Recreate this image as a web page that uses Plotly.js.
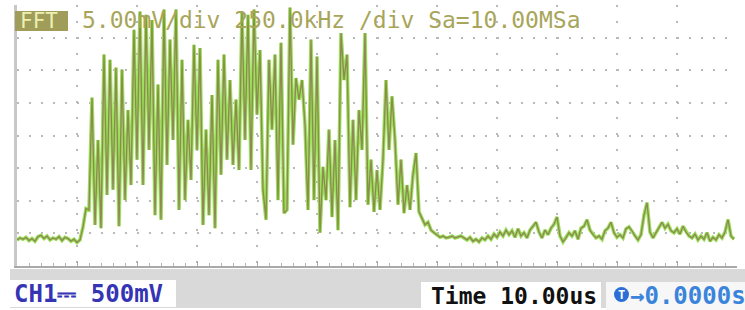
<!DOCTYPE html>
<html>
<head>
<meta charset="utf-8">
<script src="https://cdn.plot.ly/plotly-3.0.1.min.js"></script>
<style>
  html, body { margin: 0; padding: 0; background: #ffffff; }
  #chart { width: 745px; height: 310px; }
</style>
</head>
<body>
<div id="chart"></div>
<script>
// FFT frequency bins (kHz)
var freqKHz = [
  0,12.5,25,37.5,50,62.5,75,87.5,100,112.5,125,137.5,150,162.5,175,187.5,200,212.5,225,237.5,
  250,262.5,275,287.5,300,312.5,325,337.5,350,362.5,375,387.5,400,412.5,425,437.5,450,462.5,475,487.5,
  500,512.5,525,537.5,550,562.5,575,587.5,600,612.5,625,637.5,650,662.5,675,687.5,700,712.5,725,737.5,
  750,762.5,775,787.5,800,812.5,825,837.5,850,862.5,875,887.5,900,912.5,925,937.5,950,962.5,975,987.5,
  1000,1012.5,1025,1037.5,1050,1062.5,1075,1087.5,1100,1112.5,1125,1137.5,1150,1162.5,1175,1187.5,1200,1212.5,1225,1237.5,
  1250,1262.5,1275,1287.5,1300,1312.5,1325,1337.5,1350,1362.5,1375,1387.5,1400,1412.5,1425,1437.5,1450,1462.5,1475,1487.5,
  1500,1512.5,1525,1537.5,1550,1562.5,1575,1587.5,1600,1612.5,1625,1637.5,1650,1662.5,1675,1687.5,1700,1712.5,1725,1737.5,
  1750,1762.5,1775,1787.5,1800,1812.5,1825,1837.5,1850,1862.5,1875,1887.5,1900,1912.5,1925,1937.5,1950,1962.5,1975,1987.5,
  2000,2012.5,2025,2037.5,2050,2062.5,2075,2087.5,2100,2112.5,2125,2137.5,2150,2162.5,2175,2187.5,2200,2212.5,2225,2237.5,
  2250,2262.5,2275,2287.5,2300,2312.5,2325,2337.5,2350,2362.5,2375,2387.5,2400,2412.5,2425,2437.5,2450,2462.5,2475,2487.5,
  2500,2512.5,2525,2537.5,2550,2562.5,2575,2587.5,2600,2612.5,2625,2637.5,2650,2662.5,2675,2687.5,2700,2712.5,2725,2737.5,
  2750,2762.5,2775,2787.5,2800,2812.5,2825,2837.5,2850,2862.5,2875,2887.5,2900,2912.5,2925,2937.5,2950,2962.5,2975,2987.5
];
// FFT magnitude (mV, 5 mV/div)
var magMV = [
  4.0,4.3,4.1,4.4,3.9,4.2,3.8,4.5,4.7,4.2,4.6,4.0,4.3,4.1,4.5,3.9,4.4,4.2,3.8,4.1,
  3.6,4.0,6.0,8.8,8.6,25.8,6.3,19.3,5.8,32.4,10.9,31.6,11.7,30.4,6.1,30.1,10.1,23.9,12.4,36.2,
  16.3,39.0,12.4,38.5,17.8,37.7,7.8,27.8,7.1,39.3,15.5,34.7,19.3,39.3,8.6,31.6,10.1,22.4,13.2,33.9,
  17.8,33.4,6.3,20.9,7.8,26.2,5.8,31.6,14.0,32.4,16.3,28.5,15.5,25.5,14.7,39.0,19.3,38.5,14.7,39.3,
  23.2,33.1,11.7,7.1,31.6,20.9,32.4,10.1,34.2,8.1,8.6,39.6,18.6,28.8,25.5,28.5,21.6,8.6,34.7,10.1,
  32.1,5.1,15.2,10.1,20.9,7.5,19.3,5.5,35.7,28.5,32.4,9.0,22.4,10.1,23.9,17.8,35.7,9.4,16.3,8.3,
  14.7,8.6,16.3,28.5,17.8,26.0,19.3,9.4,16.3,8.1,12.4,8.6,14.0,17.3,8.3,7.4,6.3,6.7,5.5,5.1,
  4.8,4.4,4.6,4.3,4.4,4.6,4.3,4.4,4.6,4.3,4.0,4.4,3.8,4.1,3.7,4.3,4.0,4.6,4.1,4.9,
  4.4,5.2,4.6,5.5,4.8,5.4,4.4,5.7,4.6,5.1,4.3,5.5,6.1,6.7,5.2,4.3,5.5,4.8,5.8,6.4,
  7.5,4.6,3.7,4.3,5.1,4.6,5.4,4.1,5.8,6.1,7.1,5.5,4.8,4.3,4.6,4.1,5.4,5.8,6.7,5.1,
  4.4,4.8,4.3,5.7,6.0,5.4,4.6,4.0,4.8,7.8,9.7,5.2,4.3,5.1,6.1,6.7,5.8,6.4,5.4,5.1,
  5.7,4.9,6.1,5.2,4.6,4.3,4.9,4.0,4.6,4.1,5.1,3.8,4.4,4.0,4.8,4.3,5.2,7.1,4.6,4.1
];
var headerFFT = "FFT";
var headerText = "5.00mV/div 250.0kHz /div Sa=10.00MSa";
var ch1Label = "CH1\u2393 500mV";
var timeLabel = "Time 10.00us";
var trigLabel = "\u21920.0000s";

var traces = [
  { x: freqKHz, y: magMV, type: "scatter", mode: "lines",
    line: { color: "#9be05a", width: 3.6 }, hoverinfo: "skip" },
  { x: freqKHz, y: magMV, type: "scatter", mode: "lines",
    line: { color: "#8e8b52", width: 1.4 }, hoverinfo: "skip" }
];

function px(x) { return (x - 17) / 720; }
function py(y) { return (266 - y) / 261; }

var mono = "DejaVu Sans Mono";
var layout = {
  width: 745, height: 310,
  margin: { l: 17, r: 8, t: 5, b: 44, pad: 0 },
  paper_bgcolor: "#ffffff", plot_bgcolor: "#ffffff",
  showlegend: false,
  xaxis: {
    range: [0, 3000], dtick: 250, tick0: 0,
    showgrid: true, gridcolor: "#b9b9b9", gridwidth: 2, griddash: "2px,14px",
    zeroline: false, showticklabels: false,
    showline: true, linecolor: "#a9a9a9", linewidth: 2,
    ticks: "inside", ticklen: 5, tickcolor: "#a9a9a9", tickwidth: 1,
    minor: { dtick: 50, ticks: "inside", ticklen: 3, tickcolor: "#b5b5b5", showgrid: false }
  },
  yaxis: {
    range: [0, 40], dtick: 5, tick0: 0,
    showgrid: true, gridcolor: "#b9b9b9", gridwidth: 2, griddash: "2px,10px",
    zeroline: false, showticklabels: false,
    showline: true, linecolor: "#c8c8c8", linewidth: 3, ticks: ""
  },
  xaxis2: {
    overlaying: "x", anchor: "free", position: 0.5 + 2.5/261, range: [0, 3000],
    dtick: 50, tick0: 0, ticks: "outside", ticklen: 5, tickcolor: "#c0c0c0", tickwidth: 1,
    showgrid: false, zeroline: false, showline: false, showticklabels: false
  },
  shapes: [
    { type: "rect", xref: "paper", yref: "paper", x0: px(10), x1: px(745), y0: py(308), y1: py(269),
      fillcolor: "#d9d9d9", line: { width: 0 } },
    { type: "rect", xref: "paper", yref: "paper", x0: px(10), x1: px(176), y0: py(307), y1: py(280),
      fillcolor: "#ffffff", line: { width: 0 } },
    { type: "rect", xref: "paper", yref: "paper", x0: px(421), x1: px(601), y0: py(310), y1: py(282),
      fillcolor: "#ffffff", line: { width: 0 } },
    { type: "rect", xref: "paper", yref: "paper", x0: px(606), x1: px(745), y0: py(310), y1: py(282),
      fillcolor: "#f7f7f7", line: { width: 0 } },
    { type: "rect", xref: "paper", yref: "paper", x0: px(15), x1: px(68), y0: py(31), y1: py(11),
      fillcolor: "#a09d5a", line: { width: 0 } },
    { type: "circle", xref: "paper", yref: "paper", x0: px(614), x1: px(629), y0: py(302), y1: py(287),
      fillcolor: "#2a6fd6", line: { width: 0 } }
  ],
  annotations: [
    { xref: "paper", yref: "paper", x: px(18), y: py(21), xanchor: "left", yanchor: "middle",
      text: headerFFT, showarrow: false, font: { family: mono, size: 21, color: "#ecf0b0" } },
    { xref: "paper", yref: "paper", x: px(80), y: py(20), xanchor: "left", yanchor: "middle",
      text: headerText, showarrow: false, font: { family: mono, size: 23, color: "#a8a55a" } },
    { xref: "paper", yref: "paper", x: px(12), y: py(294), xanchor: "left", yanchor: "middle",
      text: ch1Label, showarrow: false, font: { family: mono, size: 24, color: "#3434b4", weight: "bold" } },
    { xref: "paper", yref: "paper", x: px(429), y: py(296), xanchor: "left", yanchor: "middle",
      text: timeLabel, showarrow: false, font: { family: mono, size: 23, color: "#111111", weight: "bold" } },
    { xref: "paper", yref: "paper", x: px(621.5), y: py(294.5), xanchor: "center", yanchor: "middle",
      text: "T", showarrow: false, font: { family: mono, size: 12, color: "#ffffff", weight: "bold" } },
    { xref: "paper", yref: "paper", x: px(628), y: py(296), xanchor: "left", yanchor: "middle",
      text: trigLabel, showarrow: false, font: { family: mono, size: 24, color: "#3a84dc", weight: "bold" } }
  ]
};

Plotly.newPlot("chart", traces, layout, { staticPlot: true, displayModeBar: false });
</script>
</body>
</html>
